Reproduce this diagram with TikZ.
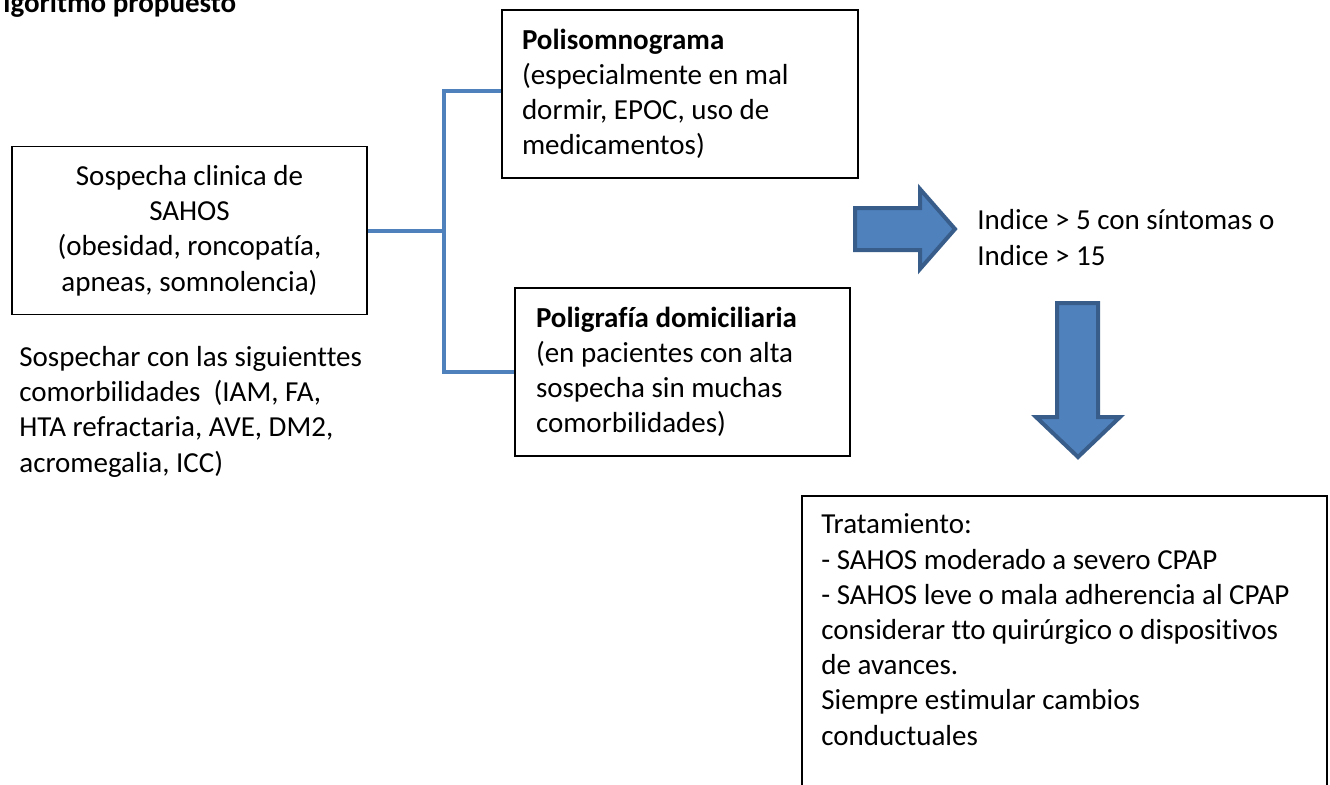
\documentclass[tikz,border=0pt]{standalone}
\usepackage{fontspec}
\setmainfont{Carlito}[Ligatures={NoCommon}]
\definecolor{ofblue}{RGB}{79,129,189}
\definecolor{ofdark}{RGB}{56,93,138}
\usetikzlibrary{positioning,calc}

\begin{document}
\begin{tikzpicture}[x=0.5pt, y=-0.5pt,
    caja/.style={rectangle, draw=black, line width=0.75pt, minimum height=84pt,
      inner xsep=10pt, font=\fontsize{14.5}{17.6}\selectfont},
    texto/.style={inner sep=0pt, align=flush left, font=\fontsize{14.5}{17.6}\selectfont},
    enlace/.style={draw=ofblue, line width=2pt},
    flecha/.style={fill=ofblue, draw=ofdark, line width=2pt, line join=miter}
  ]
    \useasboundingbox (0,0) rectangle (1330,784);
    \clip (0,0) rectangle (1330,784);

    \node[texto, anchor=base west, font=\fontsize{14.5}{17.6}\selectfont\bfseries] (titulo) at (3,12) {lgoritmo propuesto};

    \node[caja, minimum width=177.5pt, text width=157.5pt, align=flush center] (sospecha) at (189.5,230.5)
      {Sospecha clinica de\\SAHOS\\(obesidad, roncopatía,\\apneas, somnolencia)};
    % anclado en la linea base de la ultima linea
    \node[texto, anchor=base west] (comorb) at (19,472)
      {Sospechar con las siguienttes\\comorbilidades\ \ (IAM, FA,\\HTA refractaria, AVE, DM2,\\acromegalia, ICC)};

    \node[caja, minimum width=178pt, text width=158pt, align=flush left] (poli) at (680,94)
      {\textbf{Polisomnograma}\\(especialmente en mal\\dormir, EPOC, uso de\\medicamentos)};
    \node[caja, minimum width=167.5pt, inner xsep=10.5pt, text width=146.5pt, align=flush left] (domi) at (682.5,372)
      {\textbf{Poligrafía domiciliaria}\\(en pacientes con alta\\sospecha sin muchas\\comorbilidades)};

    % conector en corchete
    \coordinate (jtop) at (444,91);
    \coordinate (jbot) at (444,372);
    \draw[enlace] (sospecha.east) -- (sospecha.east -| jtop);
    \draw[enlace] (jtop -| poli.west) -- (jtop) -- (jbot) -- (jbot -| domi.west);

    % flechas de bloque
    \draw[flecha] (855,208) -- (920,208) -- (920,189) -- (955,229) -- (920,269) -- (920,250) -- (855,250) -- cycle;
    \node[texto, anchor=base west] (indice) at (977,265) {Indice > 5 con síntomas o\\Indice > 15};
    \draw[flecha] (1057,303) -- (1098,303) -- (1098,417) -- (1120,417) -- (1078,457) -- (1036,417) -- (1057,417) -- cycle;

    \node[rectangle, draw=black, line width=0.75pt, minimum width=262.5pt, minimum height=160pt,
      anchor=north west, inner sep=0pt] (trat) at (801,495) {};
    \node[texto, anchor=base west] (tratxt) at (821,745)
      {Tratamiento:\\- SAHOS moderado a severo CPAP\\- SAHOS leve o mala adherencia al CPAP\\considerar tto quirúrgico o dispositivos\\de avances.\\Siempre estimular cambios\\conductuales};
\end{tikzpicture}
\end{document}
